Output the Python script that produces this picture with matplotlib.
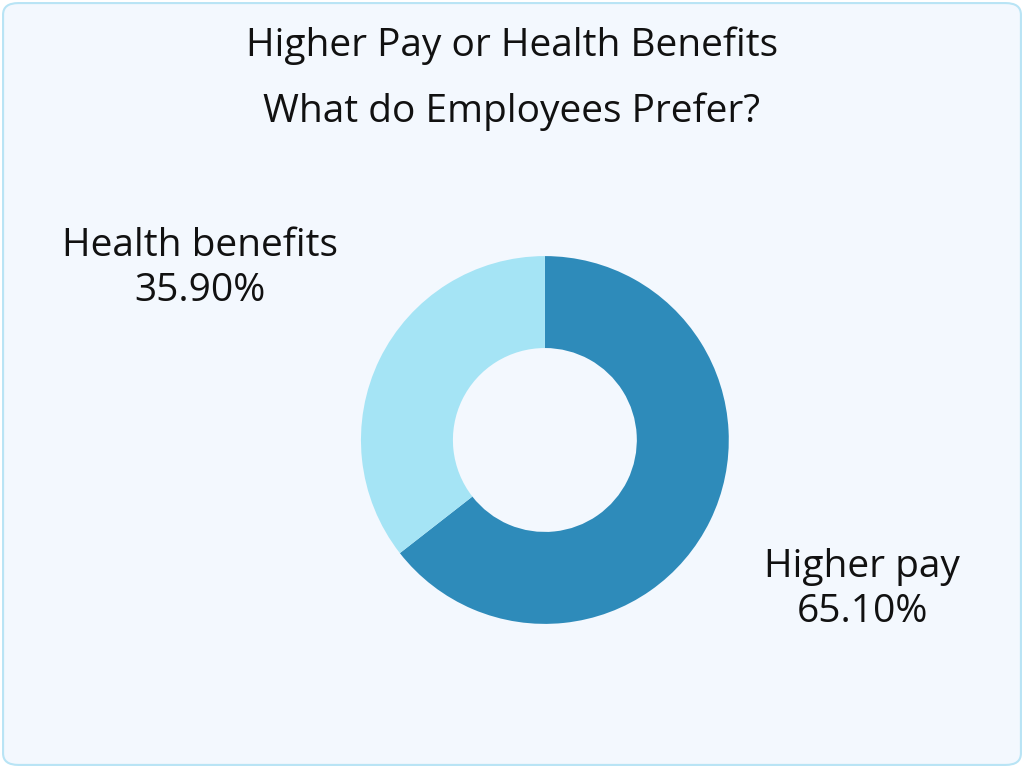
import matplotlib
matplotlib.use("Agg")
import matplotlib.pyplot as plt
from matplotlib.patches import FancyBboxPatch

categories = ["Higher pay", "Health benefits"]
values = [65.10, 35.90]
colors = ["#2E8BBA", "#A5E4F5"]

fig = plt.figure(figsize=(10.24, 7.68), dpi=100)
fig.patch.set_facecolor("white")
bg = FancyBboxPatch((0.003, 0.004), 0.994, 0.992, boxstyle="round,pad=0,rounding_size=0.015",
                    transform=fig.transFigure, facecolor="#F3F8FE", edgecolor="#B8E4F5",
                    linewidth=1.5, zorder=-10)
fig.patches.append(bg)

ax = fig.add_axes([0.3076, 0.1276, 0.449, 0.599])
ax.set_zorder(5)
ax.patch.set_visible(False)
ax.pie(values, colors=colors, startangle=90, counterclock=False,
       wedgeprops=dict(width=0.5, edgecolor="none"))
ax.set_aspect("equal")

fig.text(0.5, 0.94, "Higher Pay or Health Benefits", ha="center", va="center",
         fontsize=28, family="Open Sans", color="#111111")
fig.text(0.5, 0.855, "What do Employees Prefer?", ha="center", va="center",
         fontsize=28, family="Open Sans", color="#111111")

fig.text(0.195, 0.65, f"{categories[1]}\n{values[1]:.2f}%", ha="center", va="center",
         fontsize=28, family="Open Sans", color="#111111", linespacing=1.25)
fig.text(0.842, 0.232, f"{categories[0]}\n{values[0]:.2f}%", ha="center", va="center",
         fontsize=28, family="Open Sans", color="#111111", linespacing=1.25)

fig.savefig("out.png", dpi=100)
